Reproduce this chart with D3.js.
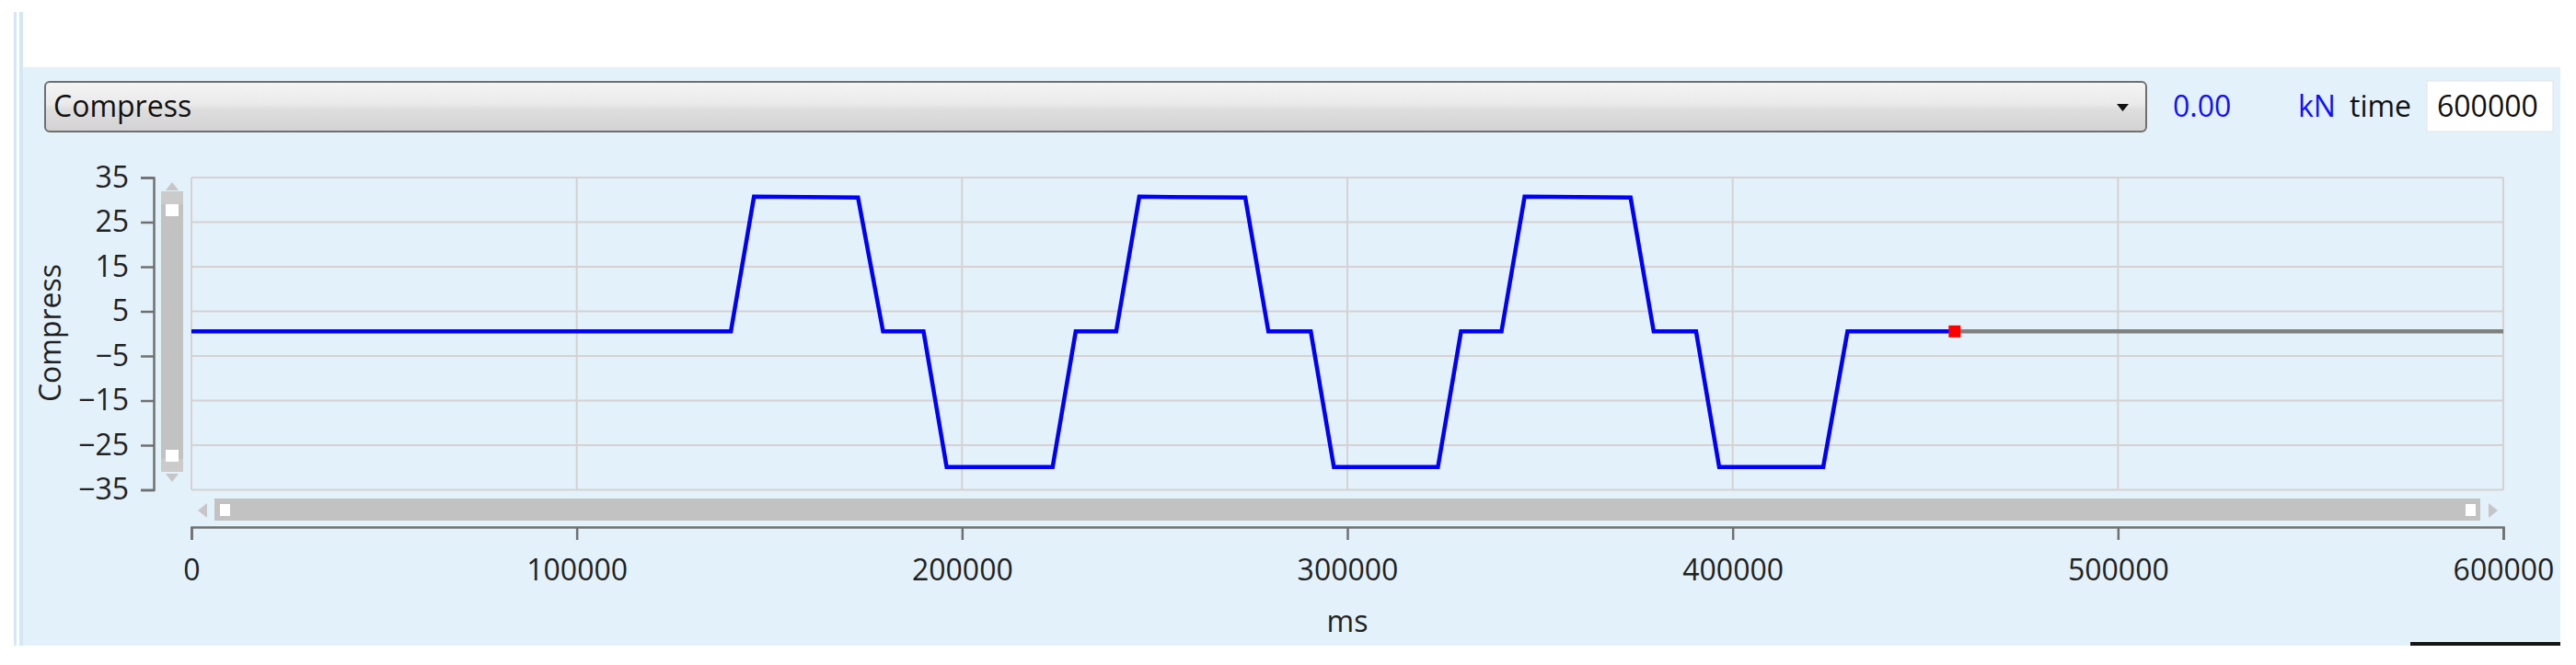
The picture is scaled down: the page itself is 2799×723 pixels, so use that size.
<!DOCTYPE html>
<html>
<head>
<meta charset="utf-8">
<script src="https://cdn.jsdelivr.net/npm/d3@7"></script>
<style>
  html, body { margin: 0; padding: 0; background: #ffffff; }
  svg { display: block; }
  text { font-family: "Open Sans", "Noto Sans", sans-serif; }
</style>
</head>
<body>
<svg id="chart" width="2799" height="723"></svg>
<script>
// ---------------- data ----------------
const channelName = "Compress";
const unitLabel = "kN";
const readoutValue = "0.00";
const timeLabel = "time";
const timeValue = "600000";
const xTitle = "ms";
const yTitle = "Compress";

const xTicks = [0, 100000, 200000, 300000, 400000, 500000, 600000];
const yTicks = [35, 25, 15, 5, -5, -15, -25, -35];

// recorded part of the signal (blue)
const timeMs = [0, 140000, 146000, 173000, 179500, 190000, 196000, 223500, 229500, 240000,
                246000, 273500, 279500, 290500, 296500, 323500, 329500, 340000, 346000, 373500,
                379500, 390500, 396500, 423500, 429800, 457600];
const force  = [0.5, 0.5, 30.7, 30.5, 0.5, 0.5, -29.9, -29.9, 0.5, 0.5,
                30.7, 30.5, 0.5, 0.5, -29.9, -29.9, 0.5, 0.5, 30.7, 30.5,
                0.5, 0.5, -29.9, -29.9, 0.5, 0.5];
// remaining (planned) part, grey
const restTime = [457600, 600000];
const restForce = [0.5, 0.5];
// current position marker
const markerTime = 457600;
const markerForce = 0.5;

// ---------------- drawing ----------------
const svg = d3.select("#chart");
const FS = 32;
const panelBg = "#e3f1fa";
const axisCol = "#707070";
const gridCol = "#d7d1d1";

// white page and the decorative left double line
svg.append("rect").attr("x", 0).attr("y", 0).attr("width", 2799).attr("height", 723).attr("fill", "#ffffff");
svg.append("rect").attr("x", 15).attr("y", 13).attr("width", 3).attr("height", 689).attr("fill", "#d3e7f5");
svg.append("rect").attr("x", 21).attr("y", 13).attr("width", 4).attr("height", 689).attr("fill", "#d3e7f5");
// panel
svg.append("rect").attr("x", 25).attr("y", 73).attr("width", 2757).attr("height", 629).attr("fill", panelBg);
svg.append("rect").attr("x", 2619).attr("y", 698).attr("width", 163).attr("height", 4).attr("fill", "#151515");

// ---- top control row ----
const defs = svg.append("defs");
const grad = defs.append("linearGradient").attr("id", "ddGrad").attr("x1", 0).attr("y1", 0).attr("x2", 0).attr("y2", 1);
grad.append("stop").attr("offset", "0%").attr("stop-color", "#f4f4f4");
grad.append("stop").attr("offset", "45%").attr("stop-color", "#eaeaea");
grad.append("stop").attr("offset", "55%").attr("stop-color", "#dedede");
grad.append("stop").attr("offset", "100%").attr("stop-color", "#d2d2d2");
svg.append("rect").attr("x", 49).attr("y", 89).attr("width", 2283).attr("height", 54)
  .attr("rx", 5).attr("fill", "url(#ddGrad)").attr("stroke", "#6f6f6f").attr("stroke-width", 2);
svg.append("text").attr("x", 58).attr("y", 127).attr("font-size", FS).attr("fill", "#111").text(channelName);
svg.append("path").attr("d", "M2300,113 L2313,113 L2306.5,121 Z").attr("fill", "#111");
svg.append("text").attr("x", 2361).attr("y", 127).attr("font-size", FS).attr("fill", "#1010ff").text(readoutValue);
svg.append("text").attr("x", 2497).attr("y", 127).attr("font-size", FS).attr("fill", "#1010ff").text(unitLabel);
svg.append("text").attr("x", 2553).attr("y", 127).attr("font-size", FS).attr("fill", "#111").text(timeLabel);
svg.append("rect").attr("x", 2637).attr("y", 88).attr("width", 137).attr("height", 55)
  .attr("fill", "#ffffff").attr("stroke", "#e4e4e4").attr("stroke-width", 1);
svg.append("text").attr("x", 2648).attr("y", 127).attr("font-size", FS).attr("fill", "#111").text(timeValue);

// ---- scales ----
const x = d3.scaleLinear().domain([0, 600000]).range([208, 2720]);
const y = d3.scaleLinear().domain([-35, 35]).range([532.5, 193]);

// plot area + grid
const plot = svg.append("g");
plot.append("rect").attr("x", 208).attr("y", 193).attr("width", 2512).attr("height", 339.5)
  .attr("fill", panelBg);
plot.selectAll("line.hg").data(yTicks).enter().append("line")
  .attr("x1", 208).attr("x2", 2720).attr("y1", d => y(d)).attr("y2", d => y(d))
  .attr("stroke", gridCol).attr("stroke-width", 2);
plot.selectAll("line.vg").data(xTicks).enter().append("line")
  .attr("x1", d => x(d)).attr("x2", d => x(d)).attr("y1", 193).attr("y2", 532.5)
  .attr("stroke", gridCol).attr("stroke-width", 2);

// ---- axes ----
const yAxisG = svg.append("g").attr("transform", "translate(167,0)")
  .call(d3.axisLeft(y).tickValues(yTicks).tickSize(14).tickSizeOuter(14).tickPadding(13).tickFormat(d3.format("d")));
const xAxisG = svg.append("g").attr("transform", "translate(0,573)")
  .call(d3.axisBottom(x).tickValues(xTicks).tickSize(14).tickSizeOuter(14).tickPadding(21).tickFormat(d3.format("d")));
[yAxisG, xAxisG].forEach(g => {
  g.selectAll("path.domain").attr("stroke", axisCol).attr("stroke-width", 2.5);
  g.selectAll(".tick line").attr("stroke", axisCol).attr("stroke-width", 2.5);
  g.selectAll(".tick text").attr("font-size", FS).attr("fill", "#222")
    .attr("font-family", "'Open Sans', 'Noto Sans', sans-serif");
});

svg.append("text").attr("x", 1464).attr("y", 687).attr("text-anchor", "middle")
  .attr("font-size", FS).attr("fill", "#222").text(xTitle);
svg.append("text").attr("transform", "translate(66,362) rotate(-90)").attr("text-anchor", "middle")
  .attr("font-size", FS).attr("fill", "#222").text(yTitle);

// ---- scrollbars ----
const sbCol = "#c2c2c2";
// vertical
svg.append("path").attr("d", "M180,207 L194,207 L187,198 Z").attr("fill", "#c6c6c6");
svg.append("rect").attr("x", 175).attr("y", 208).attr("width", 24).attr("height", 305).attr("fill", sbCol);
svg.append("rect").attr("x", 175).attr("y", 208).attr("width", 24).attr("height", 14).attr("fill", "#cbcbcb");
svg.append("rect").attr("x", 175).attr("y", 499).attr("width", 24).attr("height", 14).attr("fill", "#cbcbcb");
svg.append("rect").attr("x", 180).attr("y", 222).attr("width", 14).attr("height", 13).attr("fill", "#ffffff");
svg.append("rect").attr("x", 180).attr("y", 489).attr("width", 14).attr("height", 13).attr("fill", "#ffffff");
svg.append("path").attr("d", "M180,515 L194,515 L187,524 Z").attr("fill", "#c6c6c6");
// horizontal
svg.append("path").attr("d", "M225,547 L225,563 L215,555 Z").attr("fill", "#c6c6c6");
svg.append("rect").attr("x", 233).attr("y", 542).attr("width", 2462).attr("height", 24).attr("fill", sbCol);
svg.append("rect").attr("x", 239).attr("y", 548).attr("width", 11).attr("height", 13).attr("fill", "#ffffff");
svg.append("rect").attr("x", 2679).attr("y", 548).attr("width", 11).attr("height", 13).attr("fill", "#ffffff");
svg.append("path").attr("d", "M2704,547 L2704,563 L2714,555 Z").attr("fill", "#c6c6c6");

// ---- series ----
const line = d3.line().x(d => x(d[0])).y(d => y(d[1]));
const recorded = timeMs.map((t, i) => [t, force[i]]);
const rest = restTime.map((t, i) => [t, restForce[i]]);
svg.append("path").datum(rest).attr("d", line).attr("fill", "none")
  .attr("stroke", "#808080").attr("stroke-width", 4.5);
svg.append("path").datum(recorded).attr("d", line).attr("fill", "none")
  .attr("stroke", "#0000ff").attr("stroke-width", 4.5).attr("stroke-linejoin", "miter");
svg.append("rect").attr("x", x(markerTime) - 6.5).attr("y", y(markerForce) - 6.5)
  .attr("width", 13).attr("height", 13).attr("fill", "#ff0000");
</script>
</body>
</html>
